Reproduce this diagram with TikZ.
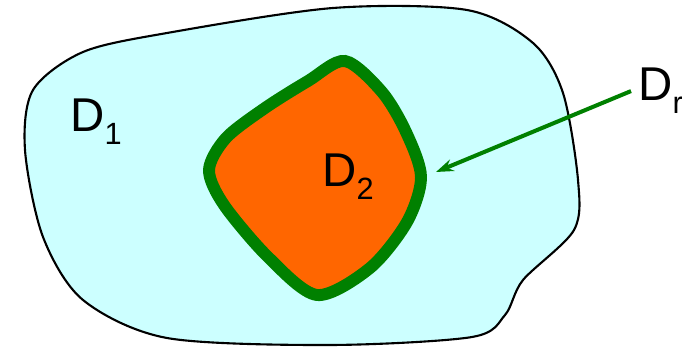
\documentclass[tikz,border=0pt]{standalone}
\usepackage{fontspec}
\setmainfont{Liberation Sans}
\usetikzlibrary{arrows.meta, positioning}
\definecolor{cRegion}{RGB}{204,255,255}
\definecolor{cInner}{RGB}{255,102,0}
\definecolor{cRim}{RGB}{0,128,0}
\newcommand{\dname}[1]{D\raisebox{-0.27em}{\fontsize{17.5}{20}\selectfont #1}}
\tikzset{
	outerregion/.style={draw=black, line width=1.2pt, fill=cRegion},
	innerregion/.style={draw=cRim, line width=6.8pt, fill=cInner},
	regionlabel/.style={font=\fontsize{27}{32}\selectfont, inner sep=0pt, anchor=base west},
	rimarrow/.style={-{Stealth[length=10pt, width=7pt, inset=3.5pt]}, draw=cRim, line width=2.3pt},
}

\begin{document}
\begin{tikzpicture}[x=0.02cm, y=-0.02cm]
	\useasboundingbox (0,0) rectangle (682,347);
	% big region D1
	\draw[outerregion] plot[smooth cycle] coordinates {(167,33) (333,8) (467,10) (533,43) (563,93) (578,180) (574,230) (523,280) (505,315) (472,337) (330,345) (167,338) (83,300) (43,237) (25,150) (33,90) (83,52)};
	% small region D2 with its rim
	\draw[innerregion] plot[smooth cycle] coordinates {(345,61) (382,92) (406,132) (421,177) (407,222) (370,268) (317,295) (268,257) (224,205) (209,170) (226,138) (265,108) (308,81)};
	\node[regionlabel] (d1) at (70,132) {\dname{1}};
	\node[regionlabel] (d2) at (322,187) {\dname{2}};
	\node[regionlabel, inner sep=4pt] (dr) at (631,101) {\dname{r}};
	\coordinate (rim) at (436,172);
	\draw[rimarrow] (dr.west) -- (rim);
\end{tikzpicture}
\end{document}
